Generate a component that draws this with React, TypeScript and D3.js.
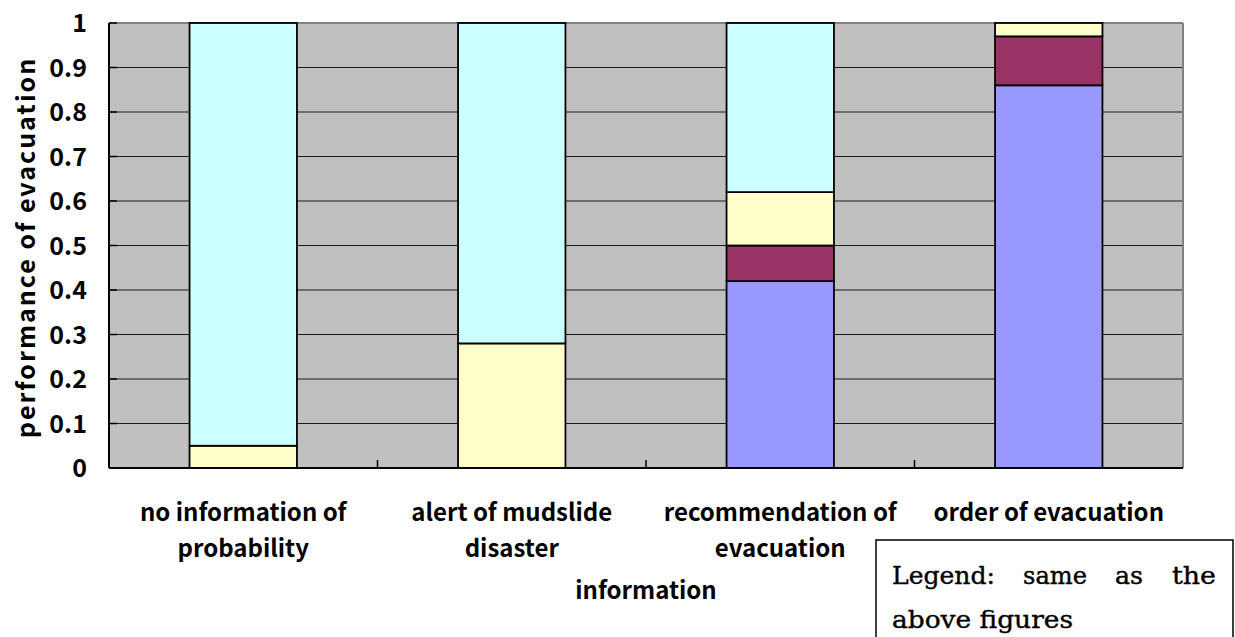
import React from "react";
import * as d3 from "d3";

const categories = [
  ["no information of", "probability"],
  ["alert of mudslide", "disaster"],
  ["recommendation of", "evacuation"],
  ["order of evacuation"],
];
const seriesNames = ["s1", "s2", "s3", "s4"];
const blueVals = [0, 0, 0.42, 0.86];
const purpleVals = [0, 0, 0.08, 0.11];
const yellowVals = [0.05, 0.28, 0.12, 0.03];
const cyanVals = [0.95, 0.72, 0.38, 0];
const colors = ["#9999FF", "#993366", "#FFFFCC", "#CCFFFF"];
const yTicks = [0, 0.1, 0.2, 0.3, 0.4, 0.5, 0.6, 0.7, 0.8, 0.9, 1];

const W = 1235;
const H = 637;
const L = 109, R = 1183, T = 23, B = 468;
const FONT = "'Noto Sans CJK JP', 'Noto Sans', sans-serif";

export default function App() {
  const keys = categories.map((c, i) => String(i));
  const x = d3.scaleBand().domain(keys).range([L, R]).paddingInner(0.6).paddingOuter(0.3);
  const y = d3.scaleLinear().domain([0, 1]).range([B, T]);
  const rows = keys.map((k, i) => ({
    key: k,
    s1: blueVals[i],
    s2: purpleVals[i],
    s3: yellowVals[i],
    s4: cyanVals[i],
  }));
  const stack = d3.stack<any>().keys(seriesNames)(rows);
  const step = x.step();

  return (
    <svg width={W} height={H} style={{ position: "absolute", left: 0, top: 0 }}>
      <rect x={0} y={0} width={W} height={H} fill="#fff" />
      <rect x={L} y={T} width={R - L} height={B - T} fill="#C0C0C0" />
      {yTicks.slice(1, -1).map((t) => (
        <line key={t} x1={L} x2={R} y1={y(t)} y2={y(t)} stroke="#1a1a1a" strokeWidth={1} />
      ))}
      {/* plot border */}
      <line x1={L} x2={R} y1={T} y2={T} stroke="#808080" strokeWidth={2} />
      <line x1={R} x2={R} y1={T} y2={B} stroke="#808080" strokeWidth={2} />
      {/* bars */}
      {stack.map((s, si) =>
        s.map((d, i) =>
          d[1] - d[0] > 0 ? (
            <rect
              key={si + "-" + i}
              x={x(keys[i])!}
              y={y(d[1])}
              width={x.bandwidth()}
              height={y(d[0]) - y(d[1])}
              fill={colors[si]}
              stroke="#000"
              strokeWidth={1.8}
            />
          ) : null
        )
      )}
      {/* axes */}
      <line x1={L} x2={L} y1={T} y2={B} stroke="#000" strokeWidth={2} />
      <line x1={L} x2={R} y1={B} y2={B} stroke="#000" strokeWidth={2} />
      {yTicks.map((t) => (
        <line key={"yt" + t} x1={L} x2={L + 8} y1={y(t)} y2={y(t)} stroke="#000" strokeWidth={1.5} />
      ))}
      {keys.slice(1).map((k) => (
        <line key={"xt" + k} x1={x(k)! - step * 0.3} x2={x(k)! - step * 0.3} y1={B} y2={B - 8} stroke="#000" strokeWidth={1.5} />
      ))}
      {yTicks.map((t) => (
        <text key={"yl" + t} x={87} y={y(t) + 9} textAnchor="end" fontFamily={FONT} fontWeight={700} fontSize={25}>
          {String(t)}
        </text>
      ))}
      <text
        transform={`translate(35,${(T + B) / 2 + 2}) rotate(-90)`}
        textAnchor="middle"
        fontFamily={FONT}
        fontWeight={700}
        fontSize={25}
        letterSpacing={2}
      >
        performance of evacuation
      </text>
      {categories.map((lines, i) =>
        lines.map((ln, j) => (
          <text
            key={"c" + i + j}
            x={x(keys[i])! + x.bandwidth() / 2}
            y={521 + j * 36}
            textAnchor="middle"
            fontFamily={FONT}
            fontWeight={700}
            fontSize={24}
          >
            {ln}
          </text>
        ))
      )}
      <text x={646} y={599} textAnchor="middle" fontFamily={FONT} fontWeight={700} fontSize={24}>
        information
      </text>
      {/* legend note box */}
      <rect x={876} y={540} width={357} height={120} fill="#fff" stroke="#000" strokeWidth={1.5} />
      <g fontFamily="'DejaVu Serif', 'Liberation Serif', serif" fontSize={25} stroke="#000" strokeWidth={0.4}>
        <text x={892} y={584} textLength={103} lengthAdjust="spacingAndGlyphs">Legend:</text>
        <text x={1023} y={584} textLength={64} lengthAdjust="spacingAndGlyphs">same</text>
        <text x={1115} y={584} textLength={28} lengthAdjust="spacingAndGlyphs">as</text>
        <text x={1172} y={584} textLength={44} lengthAdjust="spacingAndGlyphs">the</text>
        <text x={892} y={628} textLength={181} lengthAdjust="spacingAndGlyphs">above figures</text>
      </g>
    </svg>
  );
}
